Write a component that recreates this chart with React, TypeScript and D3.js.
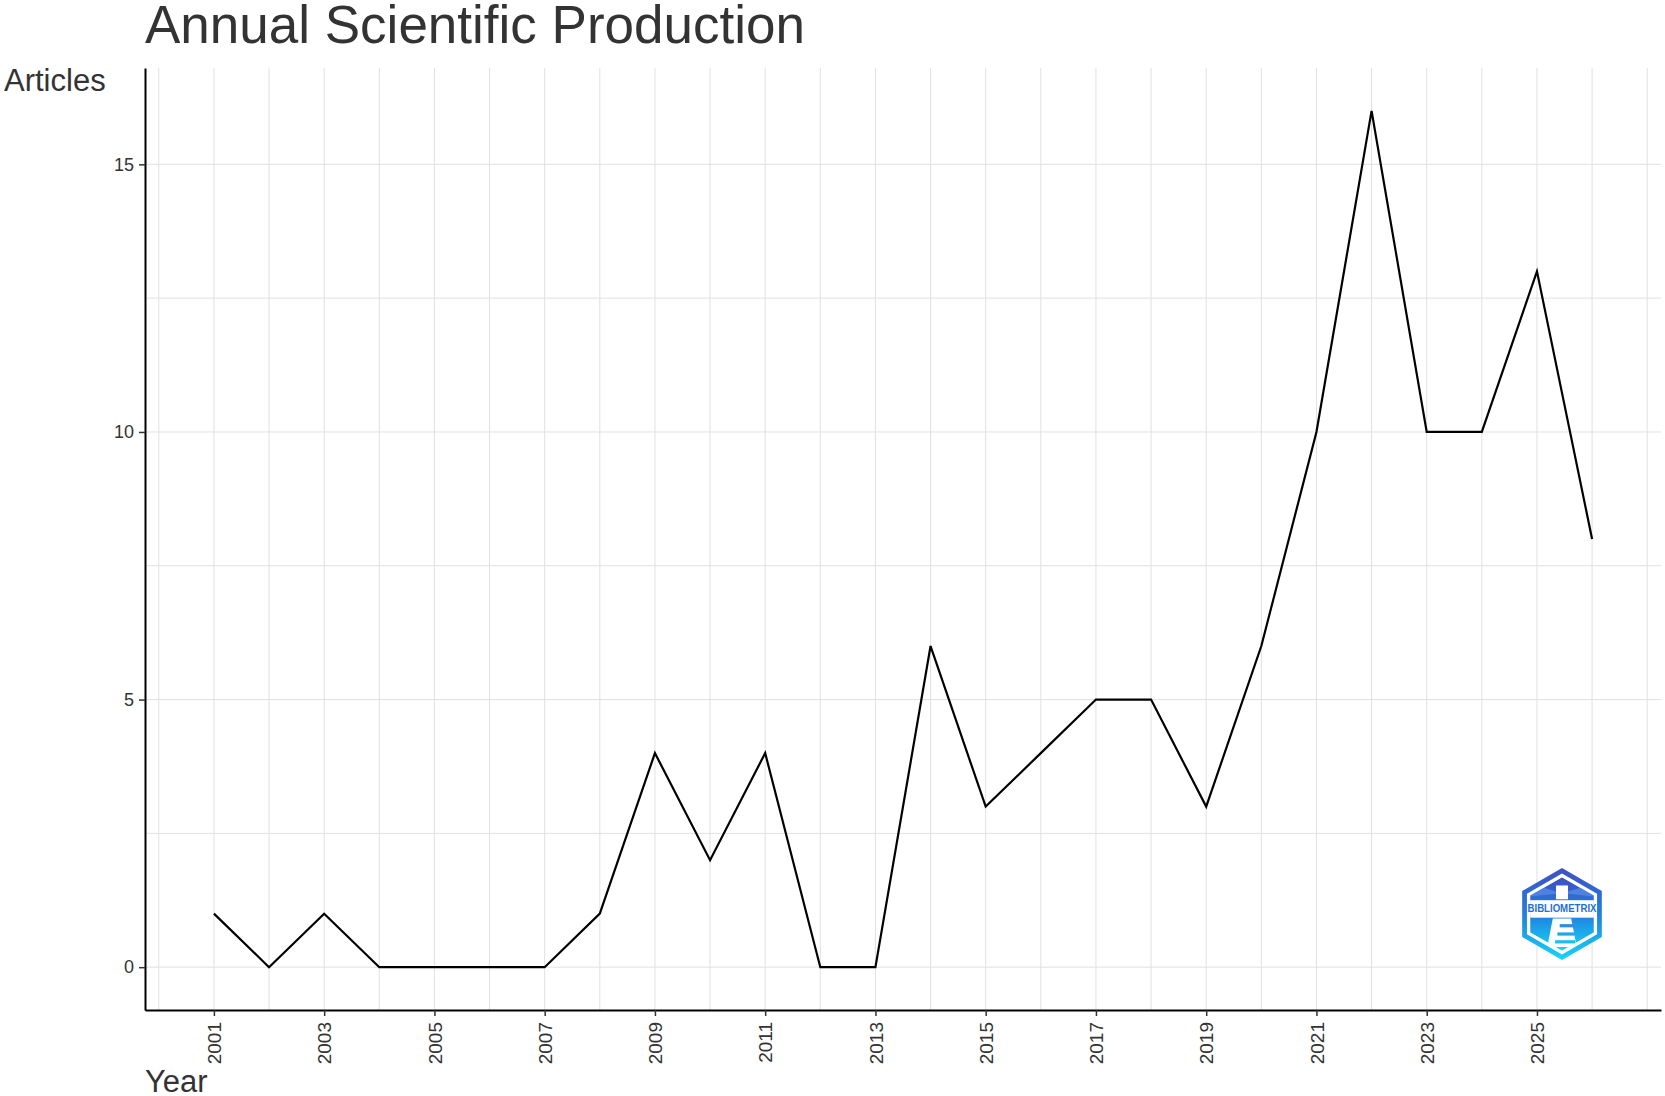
import React, { useEffect, useRef } from 'react';
import * as d3 from 'd3';

const years: number[] = [
  2001, 2002, 2003, 2004, 2005, 2006, 2007, 2008, 2009, 2010, 2011, 2012, 2013,
  2014, 2015, 2016, 2017, 2018, 2019, 2020, 2021, 2022, 2023, 2024, 2025, 2026,
];
const articles: number[] = [
  1, 0, 1, 0, 0, 0, 0, 1, 4, 2, 4, 0, 0, 6, 3, 4, 5, 5, 3, 6, 10, 16, 10, 10, 13, 8,
];
const xTickYears: number[] = [2001, 2003, 2005, 2007, 2009, 2011, 2013, 2015, 2017, 2019, 2021, 2023, 2025];
const yTickValues: number[] = [0, 5, 10, 15];

const WIDTH = 1665;
const HEIGHT = 1096;
const margin = { l: 145, r: 4, t: 68, b: 86 };
const FONT = '"Liberation Sans", Arial, sans-serif';

const Logo = ({ cx, cy, r }: { cx: number; cy: number; r: number }) => {
  const hex = (rad: number) =>
    d3
      .range(6)
      .map((i) => {
        const a = (Math.PI / 3) * i - Math.PI / 2;
        return `${cx + rad * Math.cos(a)},${cy + rad * Math.sin(a)}`;
      })
      .join(' ');
  return (
    <g>
      <defs>
        <linearGradient id="logoGrad" x1="0" y1="0" x2="0" y2="1">
          <stop offset="0%" stopColor="#3f4fc4" />
          <stop offset="55%" stopColor="#1f86e0" />
          <stop offset="100%" stopColor="#17d6f6" />
        </linearGradient>
        <clipPath id="logoClip">
          <polygon points={hex(r * 0.8)} />
        </clipPath>
      </defs>
      <polygon points={hex(r)} fill="url(#logoGrad)" />
      <polygon points={hex(r * 0.88)} fill="#fff" />
      <g clipPath="url(#logoClip)">
        <polygon points={hex(r * 0.8)} fill="url(#logoGrad)" />
        {/* light rays */}
        <polygon
          points={`${cx},${cy - r * 0.45} ${cx - r},${cy - r * 0.75} ${cx - r},${cy - r * 0.35}`}
          fill="#5a8ee8"
          opacity={0.7}
        />
        <polygon
          points={`${cx},${cy - r * 0.45} ${cx + r},${cy - r * 0.75} ${cx + r},${cy - r * 0.35}`}
          fill="#5a8ee8"
          opacity={0.7}
        />
        <rect x={cx - r} y={cy - r * 0.3} width={2 * r} height={r * 0.38} fill="#fff" />
        {/* lighthouse */}
        <rect x={cx - r * 0.13} y={cy - r * 0.62} width={r * 0.26} height={r * 0.3} fill="#fff" />
        <polygon
          points={`${cx - r * 0.2},${cy + r * 0.1} ${cx + r * 0.2},${cy + r * 0.1} ${cx + r * 0.32},${cy + r * 0.72} ${cx - r * 0.32},${cy + r * 0.72}`}
          fill="#fff"
        />
        <rect x={cx - r * 0.05} y={cy + r * 0.22} width={r * 0.32} height={r * 0.07} fill="#2a8fe2" />
        <rect x={cx - r * 0.1} y={cy + r * 0.4} width={r * 0.38} height={r * 0.07} fill="#22a6ea" />
        <rect x={cx - r * 0.15} y={cy + r * 0.57} width={r * 0.44} height={r * 0.07} fill="#1cbdf0" />
      </g>
      <text
        x={cx}
        y={cy - r * 0.04}
        textAnchor="middle"
        fontFamily={FONT}
        fontWeight="bold"
        fontSize={r * 0.245}
        fill="#1f6fd6"
        textLength={r * 1.5}
        lengthAdjust="spacingAndGlyphs"
      >
        BIBLIOMETRIX
      </text>
    </g>
  );
};

const App = () => {
  const widthMap = WIDTH - margin.l - margin.r;
  const heightMap = HEIGHT - margin.t - margin.b;

  const xScale = d3.scaleLinear().domain([1999.75, 2027.25]).range([0, widthMap]);
  const yScale = d3.scaleLinear().domain([-0.8, 16.8]).range([heightMap, 0]);

  const $xaxis: any = useRef(null);
  const $yaxis: any = useRef(null);

  const line = d3
    .line<number>()
    .x((d, i) => xScale(years[i]))
    .y((d) => yScale(d));

  useEffect(() => {
    const xAxis = d3
      .axisBottom(xScale)
      .tickValues(xTickYears)
      .tickFormat((d) => String(d))
      .tickSizeInner(6)
      .tickSizeOuter(0);
    const yAxis = d3
      .axisLeft(yScale)
      .tickValues(yTickValues)
      .tickFormat((d) => String(d))
      .tickSizeInner(6)
      .tickSizeOuter(0);

    const gx = d3.select($xaxis.current).call(xAxis as any);
    gx.select('.domain').attr('stroke', '#000').attr('stroke-width', 2);
    gx.selectAll('.tick line').attr('stroke', '#333').attr('stroke-width', 1.5);
    gx.selectAll('.tick text')
      .attr('font-family', FONT)
      .attr('font-size', 19)
      .attr('fill', '#333')
      .attr('transform', 'rotate(-90)')
      .attr('text-anchor', 'end')
      .attr('x', -12)
      .attr('y', 0)
      .attr('dy', '0.35em');

    const gy = d3.select($yaxis.current).call(yAxis as any);
    gy.select('.domain').attr('stroke', '#000').attr('stroke-width', 2);
    gy.selectAll('.tick line').attr('stroke', '#333').attr('stroke-width', 1.5);
    gy.selectAll('.tick text')
      .attr('font-family', FONT)
      .attr('font-size', 18)
      .attr('fill', '#333')
      .attr('x', -11);
  }, [xScale, yScale]);

  const gridYears = d3.range(2000, 2028);
  const gridValues = d3.range(0, 17, 2.5);

  return (
    <svg
      width={WIDTH}
      height={HEIGHT}
      viewBox={`0 0 ${WIDTH} ${HEIGHT}`}
      style={{ position: 'absolute', left: 0, top: 0, background: '#fff' }}
    >
      <text x={145} y={43} fontFamily={FONT} fontSize={53} fill="#333">
        Annual Scientific Production
      </text>
      <text x={4} y={90.5} fontFamily={FONT} fontSize={31} fill="#333">
        Articles
      </text>
      <text x={145} y={1092} fontFamily={FONT} fontSize={31} fill="#333">
        Year
      </text>
      <g transform={`translate(${margin.l}, ${margin.t})`}>
        {gridYears.map((yr) => (
          <line
            key={`gx${yr}`}
            x1={xScale(yr)}
            x2={xScale(yr)}
            y1={0}
            y2={heightMap}
            stroke="#e1e1e1"
            strokeWidth={1}
          />
        ))}
        {gridValues.map((v) => (
          <line
            key={`gy${v}`}
            x1={0}
            x2={widthMap}
            y1={yScale(v)}
            y2={yScale(v)}
            stroke="#e1e1e1"
            strokeWidth={1}
          />
        ))}
        <path d={line(articles) || ''} stroke="#000" strokeWidth={2.2} fill="none" strokeLinejoin="miter" />
        <g transform={`translate(0, ${heightMap})`} ref={$xaxis} />
        <g ref={$yaxis} />
      </g>
      <Logo cx={1562} cy={914} r={46} />
    </svg>
  );
};

export default App;
